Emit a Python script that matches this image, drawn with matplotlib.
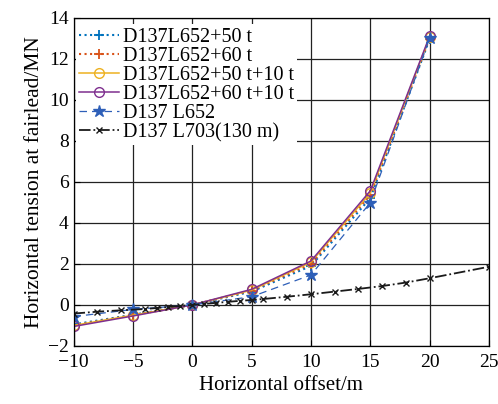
import matplotlib
matplotlib.use("Agg")
import matplotlib.pyplot as plt

plt.rcParams['font.family'] = ['Liberation Serif', 'DejaVu Serif']
plt.rcParams['axes.unicode_minus'] = True

# === 数据 ===
offset = [-10, -5, 0, 5, 10, 15, 20]
t50 = [-0.95, -0.48, 0, 0.65, 1.9, 5.2, 12.95]
t60 = [-1.0, -0.5, 0, 0.70, 2.0, 5.35, 13.0]
t50_10 = [-1.0, -0.5, 0, 0.72, 2.08, 5.45, 13.05]
t60_10 = [-1.05, -0.54, 0, 0.76, 2.14, 5.56, 13.1]
base652 = [-0.57, -0.22, 0, 0.4, 1.46, 4.98, 13.0]

offset703 = [-10, -8, -6, -4, -3, -2, -1, 0, 1, 2, 3, 4, 5, 6,
             8, 10, 12, 14, 16, 18, 20, 25]
l703 = [-0.42, -0.33, -0.26, -0.2, -0.15, -0.1, -0.05, 0, 0.05, 0.1, 0.15,
        0.2, 0.24, 0.29, 0.4, 0.52, 0.65, 0.78, 0.92, 1.09, 1.3, 1.86]

labels = ['D137L652+50 t', 'D137L652+60 t', 'D137L652+50 t+10 t',
          'D137L652+60 t+10 t', 'D137 L652', 'D137 L703(130 m)']

fig = plt.figure(figsize=(4.98, 4.04), dpi=100)
ax = fig.add_axes([73.5 / 498, 1 - 346 / 404, (489 - 73.5) / 498, (346 - 17.5) / 404])

ax.plot(offset, t50, ':', color='#0072BD', marker='+', ms=7, mew=1.3, lw=1.5, label=labels[0])
ax.plot(offset, t60, ':', color='#D95319', marker='+', ms=7, mew=1.3, lw=1.5, label=labels[1])
ax.plot(offset, t50_10, '-', color='#EDB120', marker='o', ms=7, mfc='none', lw=1.1, label=labels[2])
ax.plot(offset, t60_10, '-', color='#7E2F8E', marker='o', ms=7, mfc='none', lw=1.1, label=labels[3])
ax.plot(offset, base652, '--', color='#2E5FB8', marker='*', ms=9, lw=0.9, dashes=(6, 4), label=labels[4])
ax.plot(offset703, l703, '-.', color='#1a1a1a', marker='x', ms=4, lw=1.3, label=labels[5])

ax.set_xlim(-10, 25)
ax.set_ylim(-2, 14)
ax.set_xticks(range(-10, 26, 5))
ax.set_yticks(range(-2, 15, 2))
ax.grid(True, color='#222222', lw=0.9)
ax.tick_params(direction='in', labelsize=14, length=4)
ax.tick_params(axis='x', pad=6)
for s in ax.spines.values():
    s.set_linewidth(0.9)

ax.set_xlabel('Horizontal offset/m', fontsize=15, labelpad=3)
ax.set_ylabel('Horizontal tension at fairlead/MN', fontsize=15.5, labelpad=3)

leg = ax.legend(loc='upper left', bbox_to_anchor=(0.0, 0.985), fontsize=14.5,
                frameon=True, fancybox=False, edgecolor='none', framealpha=1,
                handlelength=2.0, handletextpad=0.2, labelspacing=0.0,
                borderpad=0.15, borderaxespad=0.1)

fig.savefig('out.png', dpi=100)
